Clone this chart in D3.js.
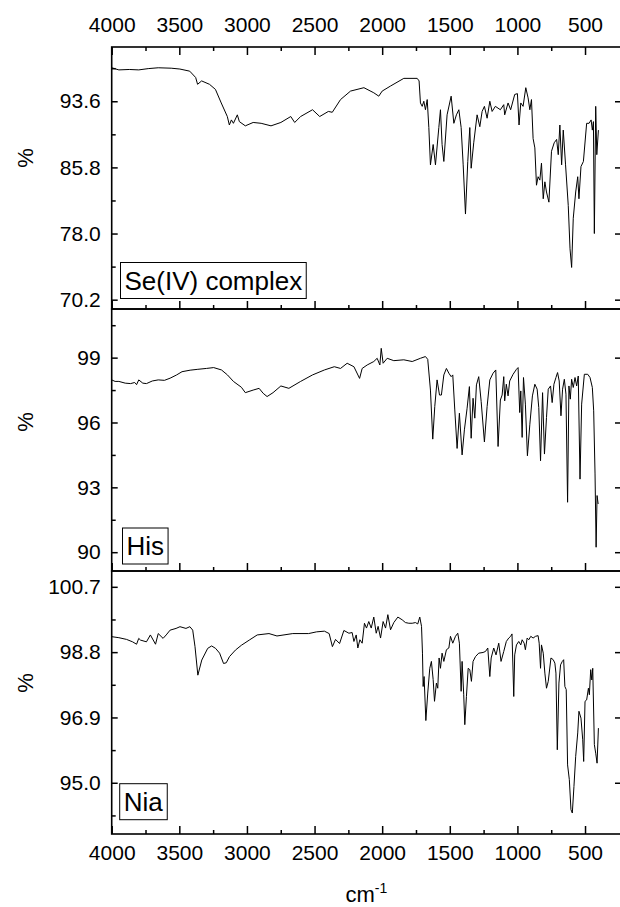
<!DOCTYPE html>
<html>
<head>
<meta charset="utf-8">
<script src="https://cdn.jsdelivr.net/npm/d3@7"></script>
<style>
  html, body { margin: 0; padding: 0; background: #fff; }
  svg { display: block; font-family: "Liberation Sans", Arial, sans-serif; }
</style>
</head>
<body>
<main></main>
<script>
// spectra, [wavenumber cm-1, %T]
const seComplex = [
  [4000, 97.55], [3947, 97.3], [3870, 97.35], [3800, 97.3], [3730, 97.45], [3656, 97.55], [3560, 97.5],
  [3496, 97.4], [3423, 97.15], [3379, 96.4], [3365, 95.6], [3335, 96], [3277, 95.6], [3233, 95],
  [3190, 93.4], [3145, 91.8], [3130, 90.8], [3115, 91.4], [3100, 91], [3071, 92], [3056, 91.2],
  [3012, 90.7], [2954, 91.1], [2895, 91], [2822, 90.7], [2749, 91.1], [2676, 91.8], [2647, 91.1],
  [2603, 91.8], [2515, 92.6], [2462, 91.8], [2398, 92.4], [2369, 92.3], [2308, 93.8], [2234, 94.8],
  [2135, 95.2], [2062, 94.6], [2025, 94.2], [2000, 94.8], [1938, 95.4], [1840, 96.3], [1741, 96.3],
  [1727, 96], [1717, 93.4], [1704, 93], [1692, 93.6], [1680, 92.6], [1667, 93.8], [1655, 90.5],
  [1643, 86.1], [1623, 88.5], [1606, 86.1], [1581, 90.5], [1569, 92.6], [1557, 88.5], [1544, 86.5],
  [1520, 92], [1490, 94.2], [1470, 91], [1451, 92], [1433, 92.6], [1416, 90.5], [1401, 86.1],
  [1384, 80.3], [1367, 86.5], [1352, 90.5], [1342, 85.7], [1323, 88.7], [1298, 92], [1278, 90.6],
  [1261, 92.4], [1244, 93], [1224, 91.6], [1204, 93.6], [1187, 92.4], [1163, 93], [1126, 92.6],
  [1101, 93.2], [1094, 92], [1069, 93.4], [1050, 92.6], [1020, 94.4], [1000, 94.5], [988, 90.8],
  [975, 93.4], [958, 93], [938, 95.2], [921, 94], [908, 92.6], [896, 93.8], [884, 89.2], [871, 88.1],
  [859, 83.7], [847, 84.7], [834, 84.3], [822, 86.3], [809, 82.1], [797, 84.1], [785, 82.9],
  [767, 81.7], [748, 87.7], [728, 88.7], [710, 89.1], [698, 87.3], [686, 90.8], [673, 86.1],
  [661, 90.2], [644, 86.1], [624, 81.3], [611, 76.2], [599, 74], [587, 79.8], [569, 82.9],
  [554, 84.7], [545, 82.1], [530, 85.9], [512, 86.5], [488, 91], [470, 91], [455, 91.4], [446, 90.2],
  [438, 91.2], [431, 78], [421, 93], [413, 87.3], [401, 90.2]
];

const histidine = [
  [4000, 97.97], [3975, 97.9], [3947, 97.9], [3900, 97.82], [3860, 97.8], [3830, 97.85], [3816, 97.75],
  [3800, 97.97], [3770, 97.82], [3743, 97.8], [3700, 97.92], [3656, 97.97], [3610, 97.95], [3568, 98.05],
  [3520, 98.2], [3480, 98.35], [3420, 98.42], [3363, 98.46], [3300, 98.5], [3246, 98.54], [3188, 98.43],
  [3144, 98.2], [3100, 97.9], [3041, 97.63], [3012, 97.38], [2954, 97.5], [2910, 97.58], [2880, 97.35],
  [2851, 97.2], [2807, 97.38], [2749, 97.69], [2690, 97.58], [2603, 97.9], [2515, 98.2], [2427, 98.43],
  [2354, 98.58], [2308, 98.5], [2259, 98.74], [2209, 98.58], [2167, 98.04], [2148, 98.5], [2111, 98.66],
  [2062, 98.82], [2037, 98.97], [2017, 98.66], [2007, 99.43], [1993, 98.74], [1963, 98.97], [1914, 98.86],
  [1840, 98.9], [1778, 98.82], [1717, 98.97], [1680, 99.05], [1663, 98.92], [1643, 97.5], [1626, 95.23],
  [1611, 96.74], [1594, 97.97], [1576, 97.27], [1562, 97.27], [1544, 98.2], [1525, 98.5], [1507, 98.28],
  [1490, 98.12], [1478, 98.2], [1463, 96.58], [1446, 94.8], [1429, 96.43], [1409, 94.5], [1392, 95.66],
  [1372, 96.66], [1355, 97.66], [1342, 95.27], [1328, 97.12], [1315, 96.2], [1303, 97.74], [1286, 98.12],
  [1268, 96.97], [1244, 95.1], [1224, 96.74], [1204, 97.97], [1180, 98.28], [1160, 98.43], [1143, 94.89],
  [1126, 97.04], [1113, 97.27], [1101, 98.12], [1094, 97], [1082, 97.77], [1069, 97.23], [1057, 97.92],
  [1032, 98.23], [1007, 98.46], [995, 98.54], [983, 96.46], [975, 97.46], [965, 95.31], [955, 98.08],
  [941, 96.85], [926, 94.46], [908, 95.92], [889, 97.23], [871, 97.77], [854, 97.54], [842, 96.69],
  [829, 94.23], [814, 97.38], [800, 94.54], [785, 96.23], [772, 97.54], [755, 97.69], [743, 96.92],
  [730, 97.77], [715, 98.08], [703, 98.31], [691, 97.92], [678, 96.31], [666, 97.54], [653, 98],
  [641, 97.31], [629, 92.31], [619, 97.69], [609, 97.08], [599, 98], [587, 97.62], [574, 98.08],
  [562, 97.69], [550, 98.15], [537, 93.38], [525, 96.85], [505, 98.23], [480, 98.23], [463, 98.08],
  [446, 97.62], [436, 96.54], [426, 93.62], [418, 90.23], [411, 92.62], [403, 92.23]
];

const niacin = [
  [4000, 99.25], [3947, 99.22], [3890, 99.17], [3846, 99.1], [3816, 99.03], [3800, 99.2], [3787, 99.15],
  [3743, 99.1], [3714, 99.3], [3676, 99.03], [3656, 99.34], [3620, 99.2], [3597, 99.3], [3568, 99.44],
  [3524, 99.49], [3495, 99.54], [3451, 99.49], [3422, 99.54], [3401, 99.44], [3384, 98.96], [3363, 98.13],
  [3334, 98.57], [3290, 98.91], [3261, 98.98], [3232, 98.91], [3202, 98.77], [3173, 98.47], [3153, 98.49],
  [3129, 98.67], [3085, 98.86], [3041, 99], [2983, 99.15], [2924, 99.3], [2837, 99.34], [2778, 99.27],
  [2661, 99.34], [2544, 99.34], [2485, 99.39], [2427, 99.41], [2392, 99.34], [2368, 98.96], [2345, 99.17],
  [2315, 99.05], [2283, 99.43], [2246, 99.35], [2222, 99.37], [2209, 99.11], [2192, 99.3], [2180, 98.92],
  [2165, 99.16], [2148, 99.06], [2131, 99.64], [2116, 99.5], [2099, 99.69], [2081, 99.5], [2062, 99.82],
  [2044, 99.35], [2030, 99.55], [2012, 99.21], [1993, 99.69], [1975, 99.5], [1958, 99.89], [1938, 99.45],
  [1914, 99.66], [1884, 99.82], [1852, 99.74], [1828, 99.66], [1803, 99.64], [1778, 99.64], [1754, 99.66],
  [1737, 99.62], [1722, 99.82], [1709, 99.55], [1702, 98.77], [1697, 97.8], [1690, 98.09], [1677, 96.81],
  [1663, 97.61], [1648, 98.33], [1636, 98.53], [1623, 98], [1613, 97.37], [1599, 97.9], [1589, 97.75],
  [1579, 98.63], [1569, 98.33], [1557, 98.77], [1544, 98.53], [1525, 98.87], [1507, 98.92], [1495, 99.26],
  [1478, 99.06], [1458, 99.26], [1441, 99.35], [1429, 99.06], [1416, 97.66], [1409, 98.53], [1397, 97.56],
  [1389, 96.69], [1377, 97.51], [1364, 98.33], [1352, 98.29], [1340, 97.95], [1328, 98.53], [1310, 98.67],
  [1286, 98.77], [1254, 98.79], [1236, 98.82], [1219, 98.92], [1204, 98.09], [1194, 98.63], [1175, 98.92],
  [1158, 98.72], [1138, 99.06], [1121, 98.53], [1101, 98.82], [1082, 99.11], [1064, 99.21], [1050, 99.26],
  [1040, 99.33], [1027, 97.51], [1020, 98.72], [1007, 99.01], [990, 99.11], [975, 99.01], [965, 99.16],
  [950, 99.06], [941, 98.87], [928, 99.21], [916, 99.16], [901, 99.26], [884, 99.21], [866, 99.26],
  [847, 99.28], [839, 99.06], [829, 98.33], [822, 99.01], [809, 98.77], [797, 98.19], [785, 97.75],
  [772, 97.95], [752, 98.63], [735, 98.58], [723, 98.48], [715, 98.19], [705, 95.96], [693, 97.9],
  [681, 98.43], [668, 98.53], [658, 98.58], [649, 97.8], [639, 97.71], [629, 95.52], [616, 95.09],
  [604, 94.22], [594, 94.12], [582, 94.89], [569, 95.77], [554, 96.45], [545, 97.08], [530, 96.88],
  [517, 96.25], [510, 95.62], [500, 97.37], [488, 97.41], [475, 97.75], [468, 97.56], [458, 98.29],
  [450, 97.99], [443, 98.33], [431, 96.11], [421, 95.86], [411, 95.57], [401, 96.59]
];

const xDomain = [4000, 234];
const xTicks = [4000, 3500, 3000, 2500, 2000, 1500, 1000, 500];
const xMinorTicks = [3750, 3250, 2750, 2250, 1750, 1250, 750];

const seDomain = [69.1, 100.0];
const seTicks = [70.2, 78.0, 85.8, 93.6];
const seTickLabels = ["70.2", "78.0", "85.8", "93.6"];
const seMinor = [74.1, 81.9, 89.7, 97.5];

const hisDomain = [89.13, 101.25];
const hisTicks = [90, 93, 96, 99];
const hisTickLabels = ["90", "93", "96", "99"];
const hisMinor = [91.5, 94.5, 97.5, 100.5];

const niaDomain = [93.51, 101.16];
const niaTicks = [95.0, 96.9, 98.8, 100.7];
const niaTickLabels = ["95.0", "96.9", "98.8", "100.7"];
const niaMinor = [94.05, 95.95, 97.85, 99.75];

const names = ["Se(IV) complex", "His", "Nia"];

const showGraph = () => {
    const WIDTH = 620, HEIGHT = 907;
    const LEFT = 111.7, RIGHT = 621;
    const FONT = 21;

    const svg = d3.select("main").append("svg")
        .attr("width", WIDTH)
        .attr("height", HEIGHT);

    const xScale = d3.scaleLinear().domain(xDomain).range([LEFT, RIGHT]);

    const panels = [
        {data: seComplex, domain: seDomain, ticks: seTicks, labels: seTickLabels, minor: seMinor,
         top: 47, bottom: 309, name: names[0], labelX: 124.5, labelY: 289.5, pctY: 158},
        {data: histidine, domain: hisDomain, ticks: hisTicks, labels: hisTickLabels, minor: hisMinor,
         top: 309, bottom: 571, name: names[1], labelX: 126.5, labelY: 555, pctY: 422},
        {data: niacin, domain: niaDomain, ticks: niaTicks, labels: niaTickLabels, minor: niaMinor,
         top: 571, bottom: 834, name: names[2], labelX: 123.7, labelY: 810.7, pctY: 683}
    ];

    const styleAxis = (g) => {
        g.select(".domain").remove();
        g.selectAll("line").attr("stroke", "#000").attr("stroke-width", 1.5);
        g.selectAll("text").attr("font-size", FONT).attr("fill", "#000")
            .attr("font-family", "'Liberation Sans', Arial, sans-serif");
    };

    panels.forEach((p, i) => {
        const yScale = d3.scaleLinear().domain(p.domain).range([p.bottom, p.top]);

        // spectrum
        const line = d3.line().x(d => xScale(d[0])).y(d => yScale(d[1]));
        svg.append("path")
            .datum(p.data)
            .attr("fill", "none")
            .attr("stroke", "#000")
            .attr("stroke-width", 1)
            .attr("stroke-linejoin", "round")
            .attr("d", line);

        // bottom ticks (inward), labels only on the last panel
        svg.append("g")
            .attr("transform", `translate(0, ${p.bottom})`)
            .call(d3.axisBottom(xScale).tickValues(xTicks).tickSize(-8).tickPadding(11)
                .tickFormat(i === 2 ? d3.format("d") : () => ""))
            .call(styleAxis);
        svg.append("g")
            .attr("transform", `translate(0, ${p.bottom})`)
            .call(d3.axisBottom(xScale).tickValues(xMinorTicks).tickSize(-4).tickFormat(() => ""))
            .call(styleAxis);

        if (i === 0) {
            svg.append("g")
                .attr("transform", `translate(0, ${p.top})`)
                .call(d3.axisTop(xScale).tickValues(xTicks).tickSize(-8).tickPadding(15)
                    .tickFormat(d3.format("d")))
                .call(styleAxis);
            svg.append("g")
                .attr("transform", `translate(0, ${p.top})`)
                .call(d3.axisTop(xScale).tickValues(xMinorTicks).tickSize(-4).tickFormat(() => ""))
                .call(styleAxis);
        }

        // left axis
        svg.append("g")
            .attr("transform", `translate(${LEFT}, 0)`)
            .call(d3.axisLeft(yScale).tickValues(p.ticks).tickSize(-6).tickPadding(11)
                .tickFormat((d, k) => p.labels[k]))
            .call(styleAxis);
        svg.append("g")
            .attr("transform", `translate(${LEFT}, 0)`)
            .call(d3.axisLeft(yScale).tickValues(p.minor).tickSize(-4).tickFormat(() => ""))
            .call(styleAxis);

        // right axis, majors only
        svg.append("g")
            .attr("transform", `translate(${RIGHT}, 0)`)
            .call(d3.axisRight(yScale).tickValues(p.ticks).tickSize(-6).tickFormat(() => ""))
            .call(styleAxis);

        // frame
        svg.append("rect")
            .attr("x", LEFT)
            .attr("y", p.top)
            .attr("width", RIGHT - LEFT)
            .attr("height", p.bottom - p.top)
            .attr("fill", "none")
            .attr("stroke", "#000")
            .attr("stroke-width", 1.6);

        // y title
        svg.append("text")
            .attr("transform", `translate(25, ${p.pctY}) rotate(-90)`)
            .attr("text-anchor", "middle")
            .attr("dominant-baseline", "central")
            .attr("font-size", 22)
            .text("%");

        // sample label in a box
        const tag = svg.append("g");
        const box = tag.append("rect")
            .attr("fill", "#fff")
            .attr("stroke", "#000")
            .attr("stroke-width", 1);
        const label = tag.append("text")
            .attr("x", p.labelX)
            .attr("y", p.labelY)
            .attr("font-size", 26)
            .text(p.name);
        const bb = label.node().getBBox();
        box.attr("x", bb.x - 4)
            .attr("y", p.labelY - 27)
            .attr("width", bb.width + 8)
            .attr("height", 36);
    });

    // x title
    const xt = svg.append("text")
        .attr("x", (LEFT + RIGHT) / 2)
        .attr("y", 902)
        .attr("text-anchor", "middle")
        .attr("font-size", 22);
    xt.append("tspan").text("cm");
    xt.append("tspan").attr("dy", -9).attr("font-size", 14).text("-1");
};

document.addEventListener('DOMContentLoaded', () => {
    showGraph();
});
</script>
</body>
</html>
